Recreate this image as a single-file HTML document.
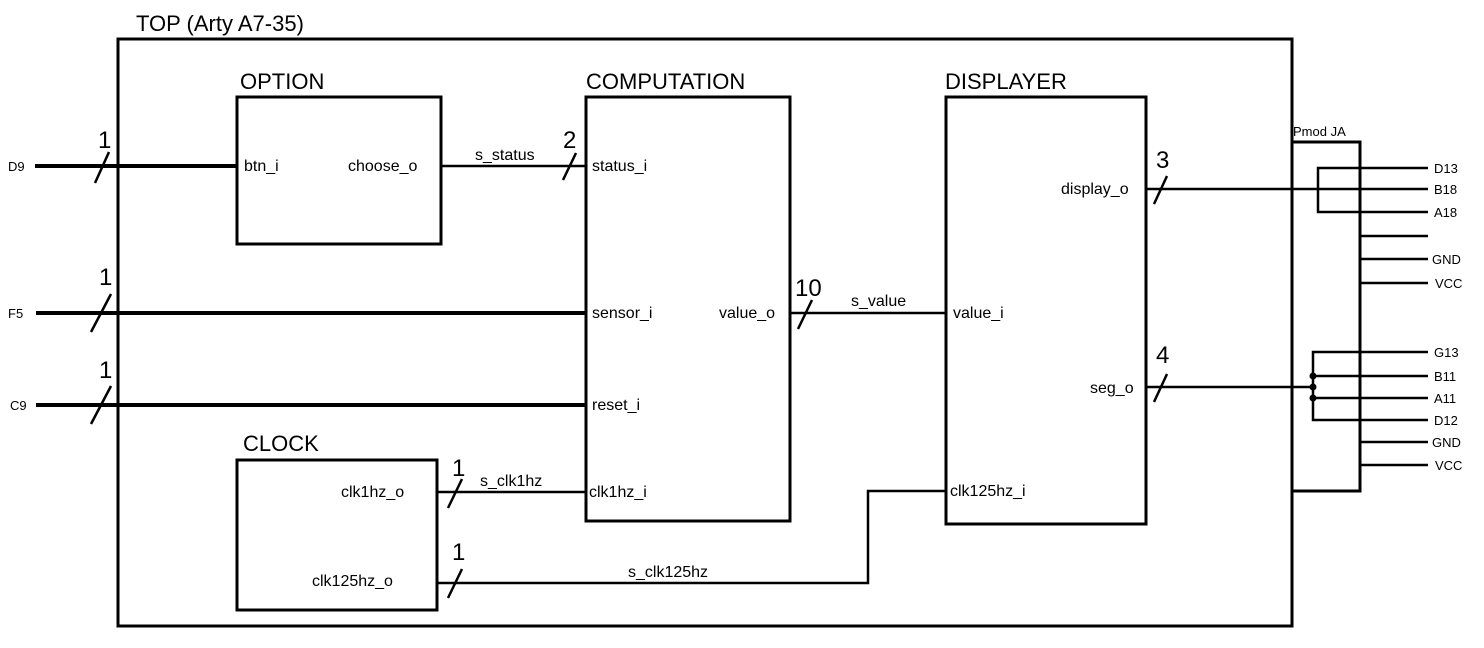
<!DOCTYPE html>
<html><head><meta charset="utf-8"><style>
html,body{margin:0;padding:0;background:#fff;width:1484px;height:648px;overflow:hidden}
svg text{font-family:"Liberation Sans",sans-serif;fill:#000}
</style></head><body>
<svg width="1484" height="648" viewBox="0 0 1484 648" xmlns="http://www.w3.org/2000/svg">
<g fill="none" stroke="#000" stroke-width="3">
<rect x="118" y="39" width="1174" height="587"/>
<rect x="237" y="97" width="204" height="147"/>
<rect x="586" y="97" width="204" height="424"/>
<rect x="946" y="97" width="200" height="427"/>
<rect x="237" y="460" width="200" height="150"/>
<polyline points="1292,142 1360,142 1360,491 1292,491"/>
</g>
<g stroke="#000" stroke-width="4">
<line x1="35" y1="166" x2="237" y2="166"/>
<line x1="36" y1="313" x2="586" y2="313"/>
<line x1="36" y1="405" x2="586" y2="405"/>
</g>
<g stroke="#000" stroke-width="2.5" fill="none">
<line x1="441" y1="166" x2="586" y2="166"/>
<line x1="790" y1="313" x2="946" y2="313"/>
<line x1="437" y1="492" x2="586" y2="492"/>
<polyline points="437,583 868,583 868,491 946,491"/>
<line x1="1146" y1="189" x2="1428" y2="189"/>
<line x1="1146" y1="387" x2="1313" y2="387"/>
<polyline points="1428,168 1318,168 1318,212 1428,212"/>
<polyline points="1428,352 1313,352 1313,420 1428,420"/>
<line x1="1313" y1="376" x2="1428" y2="376"/>
<line x1="1313" y1="398" x2="1428" y2="398"/>
<line x1="1360" y1="236" x2="1428" y2="236"/>
<line x1="1360" y1="259" x2="1428" y2="259"/>
<line x1="1360" y1="283" x2="1428" y2="283"/>
<line x1="1360" y1="442" x2="1428" y2="442"/>
<line x1="1360" y1="465" x2="1428" y2="465"/>
<!-- slashes -->
<line x1="95" y1="183" x2="109" y2="152"/>
<line x1="91" y1="332" x2="111" y2="294"/>
<line x1="91" y1="424" x2="111" y2="386"/>
<line x1="563" y1="180" x2="576" y2="153"/>
<line x1="798" y1="329" x2="812" y2="300"/>
<line x1="448" y1="508" x2="462" y2="479"/>
<line x1="448" y1="598" x2="462" y2="569"/>
<line x1="1154" y1="204" x2="1167" y2="176"/>
<line x1="1154" y1="402" x2="1167" y2="374"/>
</g>
<g fill="#000"><circle cx="1313" cy="376" r="3.5"/><circle cx="1313" cy="387" r="3.5"/><circle cx="1313" cy="398" r="3.5"/></g>
<g font-size="22">
<text x="136" y="31">TOP (Arty A7-35)</text>
<text x="240" y="89">OPTION</text>
<text x="586" y="89">COMPUTATION</text>
<text x="945" y="89">DISPLAYER</text>
<text x="243" y="451">CLOCK</text>
</g>
<g font-size="24">
<text x="98" y="148">1</text><text x="99" y="285">1</text><text x="99" y="378">1</text>
<text x="563" y="148">2</text><text x="795" y="296">10</text>
<text x="452" y="476">1</text><text x="452" y="560">1</text>
<text x="1156" y="168">3</text><text x="1156" y="363">4</text>
</g>
<g font-size="16">
<text x="244" y="171">btn_i</text>
<text x="348" y="171">choose_o</text>
<text x="592" y="171">status_i</text>
<text x="592" y="318">sensor_i</text>
<text x="719" y="318">value_o</text>
<text x="592" y="410">reset_i</text>
<text x="589" y="497">clk1hz_i</text>
<text x="953" y="318">value_i</text>
<text x="950" y="496">clk125hz_i</text>
<text x="1061" y="194">display_o</text>
<text x="1090" y="393">seg_o</text>
<text x="341" y="497">clk1hz_o</text>
<text x="312" y="586">clk125hz_o</text>
<text x="475" y="160">s_status</text>
<text x="851" y="306">s_value</text>
<text x="480" y="486">s_clk1hz</text>
<text x="628" y="577">s_clk125hz</text>
</g>
<g font-size="13">
<text x="8" y="171">D9</text><text x="8" y="318">F5</text><text x="10" y="410">C9</text>
<text x="1293" y="136">Pmod JA</text>
<text x="1434" y="173">D13</text><text x="1434" y="194">B18</text><text x="1434" y="217">A18</text>
<text x="1432" y="264">GND</text><text x="1435" y="288">VCC</text>
<text x="1434" y="357">G13</text><text x="1434" y="381">B11</text><text x="1434" y="403">A11</text>
<text x="1434" y="425">D12</text><text x="1432" y="447">GND</text><text x="1435" y="470">VCC</text>
</g>
</svg>
</body></html>
